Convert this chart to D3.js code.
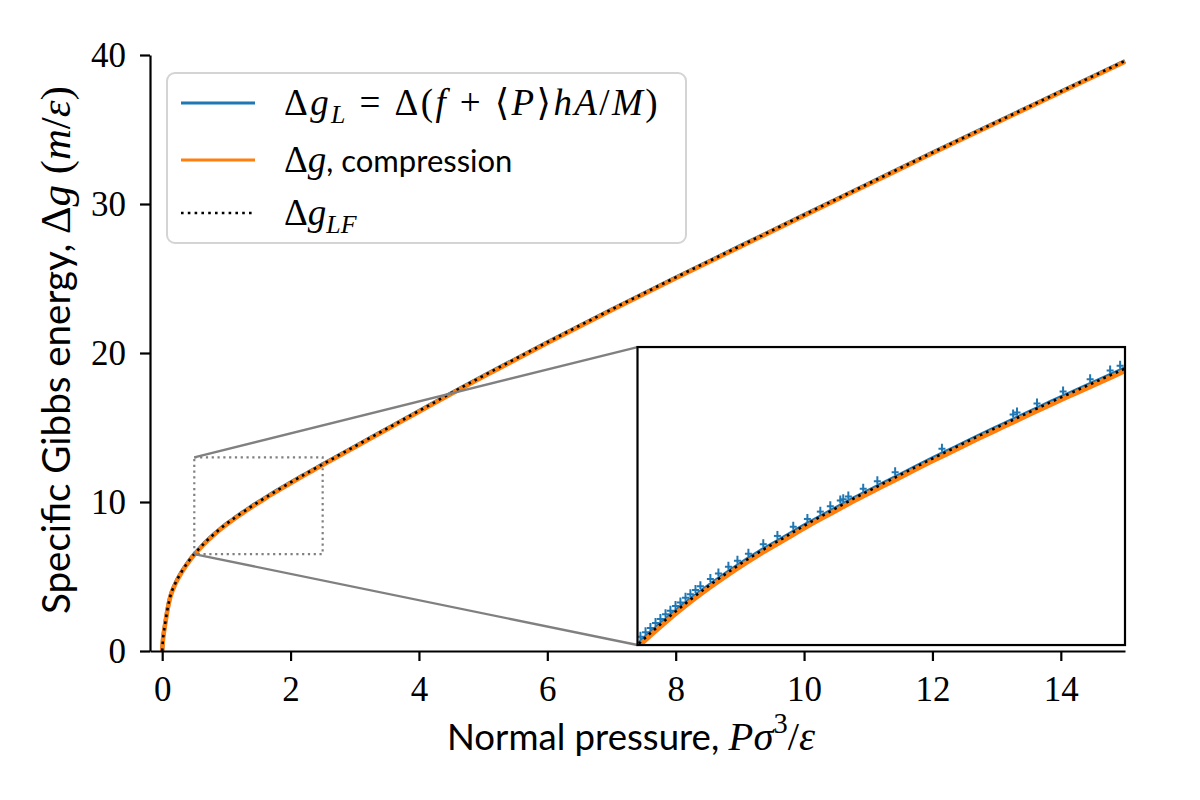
<!DOCTYPE html>
<html>
<head>
<meta charset="utf-8">
<script src="https://cdn.jsdelivr.net/npm/d3@7"></script>
<style>
  body { margin: 0; background: #fff; }
</style>
</head>
<body>
<svg id="chart" width="1200" height="800"></svg>
<script>
// ---- data ----
const pressure = [0, 0.01, 0.025, 0.05, 0.08, 0.125, 0.2, 0.3, 0.4, 0.5, 0.6, 0.7, 0.8, 0.9, 1.0, 1.1, 1.2, 1.3, 1.4, 1.5,
  1.6, 1.7, 1.8, 1.9, 2.0, 2.1, 2.2, 2.3, 2.4, 2.5, 3.0, 3.5, 4.0, 4.5, 5.0, 6.0, 7.0, 8.0, 9.0, 10, 11, 12, 13, 14, 15]
const gL = [0, 0.7, 1.25, 1.95, 2.75, 3.65, 4.5, 5.3, 5.95, 6.5, 6.98, 7.42, 7.82, 8.19, 8.53, 8.84, 9.15, 9.44, 9.73, 10.0,
  10.27, 10.54, 10.8, 11.06, 11.31, 11.56, 11.81, 12.05, 12.29, 12.53, 13.73, 14.92, 16.11, 17.3, 18.46, 20.72, 22.92, 25.07, 27.17, 29.27, 31.36, 33.45, 35.5, 37.55, 39.6]
const gCompression = [0, 0.65, 1.2, 1.9, 2.7, 3.6, 4.45, 5.25, 5.9, 6.45, 6.93, 7.37, 7.77, 8.14, 8.48, 8.79, 9.1, 9.39, 9.68, 9.95,
  10.22, 10.49, 10.75, 11.01, 11.26, 11.51, 11.76, 12.0, 12.24, 12.48, 13.68, 14.87, 16.06, 17.25, 18.41, 20.67, 22.87, 25.02, 27.12, 29.22, 31.31, 33.4, 35.45, 37.5, 39.55]
const gLF = [0, 0.7, 1.25, 1.95, 2.75, 3.65, 4.5, 5.3, 5.95, 6.5, 6.98, 7.42, 7.82, 8.19, 8.53, 8.84, 9.15, 9.44, 9.73, 10.0,
  10.27, 10.54, 10.8, 11.06, 11.31, 11.56, 11.81, 12.05, 12.29, 12.53, 13.73, 14.92, 16.11, 17.3, 18.46, 20.72, 22.92, 25.07, 27.17, 29.27, 31.36, 33.45, 35.5, 37.55, 39.6]

// blue sample points shown in the zoom inset
const markerP = [0.512, 0.533, 0.553, 0.574, 0.594, 0.615, 0.635, 0.656, 0.676, 0.697, 0.717, 0.738, 0.758, 0.799, 0.832, 0.873, 0.910, 0.955,
  1.016, 1.074, 1.139, 1.197, 1.250, 1.291, 1.332, 1.344, 1.365, 1.426, 1.484, 1.557, 1.749, 2.041, 2.057, 2.139, 2.246, 2.357, 2.439, 2.480]
const markerG = [6.68, 6.78, 6.87, 6.98, 7.07, 7.17, 7.25, 7.35, 7.43, 7.53, 7.61, 7.70, 7.78, 7.94, 8.06, 8.21, 8.34, 8.49,
  8.70, 8.88, 9.08, 9.25, 9.41, 9.53, 9.65, 9.68, 9.74, 9.91, 10.07, 10.27, 10.78, 11.53, 11.57, 11.77, 12.03, 12.30, 12.49, 12.59]

const xTicks = [0, 2, 4, 6, 8, 10, 12, 14]
const yTicks = [0, 10, 20, 30, 40]
const xDomain = [-0.19, 15]
const yDomain = [0, 40]
const zoomX = [0.5, 2.5]
const zoomY = [6.5, 13]

// ---- layout ----
const SERIF = "'Liberation Serif', 'DejaVu Serif', serif"
const SANS = "'Lato', 'DejaVu Sans', sans-serif"
const BLUE = '#1f77b4', ORANGE = '#ff7f0e'

const plot = { left: 150, right: 1125, top: 55, bottom: 651 }
const pw = plot.right - plot.left, ph = plot.bottom - plot.top
// inset placed at axes fraction [0.5, 0.01, 0.5, 0.5]
const inset = {
    left: plot.left + 0.5 * pw,
    right: plot.left + pw,
    top: plot.bottom - 0.51 * ph,
    bottom: plot.bottom - 0.01 * ph
}

const svg = d3.select('#chart')

const x = d3.scaleLinear().domain(xDomain).range([plot.left, plot.right])
const y = d3.scaleLinear().domain(yDomain).range([plot.bottom, plot.top])
const xi = d3.scaleLinear().domain(zoomX).range([inset.left, inset.right])
const yi = d3.scaleLinear().domain(zoomY).range([inset.bottom, inset.top])

// writes mixed math / sans text with sub and superscripts
// size = math (serif) size, sansSize = size used for plain words
function richText(parent, parts, size, sansSize, attrs, ls = 0) {
    const t = parent.append('text').style('font-size', size + 'px')
    Object.entries(attrs).forEach(([k, v]) => t.attr(k, v))
    let shift = 0
    parts.forEach(p => {
        const s = t.append('tspan').text(p.t)
            .style('font-family', p.sans ? SANS : SERIF)
        if (p.i) s.style('font-style', 'italic')
        const target = p.sub ? 0.22 : p.sup ? -0.42 : 0
        const dy = (target - shift) * size
        if (dy) s.attr('dy', dy)
        shift = target
        if (p.sub || p.sup) s.style('font-size', (size * 0.7) + 'px')
        else if (p.sans) s.style('font-size', sansSize + 'px')
        if (ls && !p.sans) s.style('letter-spacing', ls + 'px')
    })
    return t
}

// scale the font so the label spans the width seen in the reference
function fittedText(parent, parts, size, sansRatio, width, attrs) {
    const probe = richText(parent, parts, size, size * sansRatio, attrs)
    const k = width / probe.node().getComputedTextLength()
    probe.remove()
    return richText(parent, parts, size * k, size * k * sansRatio, attrs)
}

// keep the font size, widen letter spacing to match the reference width
function spacedText(parent, parts, size, sansSize, width, attrs) {
    if (!width) return richText(parent, parts, size, sansSize, attrs)
    const probe = richText(parent, parts, size, sansSize, attrs)
    const w = probe.node().getComputedTextLength()
    const n = parts.filter(p => !p.sans).map(p => p.t.length).reduce((a, b) => a + b, 0)
    probe.remove()
    return richText(parent, parts, size, sansSize, attrs, Math.max(0, (width - w) / n))
}

function lineFor(xs, ys) {
    return d3.line()
        .x((d, k) => xs(pressure[k]))
        .y(d => ys(d))
        .curve(d3.curveMonotoneX)
}

// ---- main curves ----
const main = svg.append('g')
const series = [
    { vals: gL, color: BLUE, width: 4, dash: null },
    { vals: gCompression, color: ORANGE, width: 4.5, dash: null },
    { vals: gLF, color: '#000', width: 2.6, dash: '2.6,4.2' }
]
series.forEach(s => {
    main.append('path')
        .attr('d', lineFor(x, y)(s.vals))
        .attr('fill', 'none')
        .attr('stroke', s.color)
        .attr('stroke-width', s.width)
        .attr('stroke-dasharray', s.dash)
})

// ---- zoom indicator + connectors ----
const gray = '#808080'
svg.append('rect')
    .attr('x', x(zoomX[0])).attr('y', y(zoomY[1]))
    .attr('width', x(zoomX[1]) - x(zoomX[0]))
    .attr('height', y(zoomY[0]) - y(zoomY[1]))
    .attr('fill', 'none')
    .attr('stroke', gray)
    .attr('stroke-width', 2.2)
    .attr('stroke-dasharray', '2.2,3.6')

svg.append('line')
    .attr('x1', x(zoomX[0])).attr('y1', y(zoomY[1]))
    .attr('x2', inset.left).attr('y2', inset.top)
    .attr('stroke', gray).attr('stroke-width', 2.4)
svg.append('line')
    .attr('x1', x(zoomX[0])).attr('y1', y(zoomY[0]))
    .attr('x2', inset.left).attr('y2', inset.bottom)
    .attr('stroke', gray).attr('stroke-width', 2.4)

// ---- inset ----
svg.append('clipPath').attr('id', 'insetClip')
    .append('rect')
    .attr('x', inset.left).attr('y', inset.top)
    .attr('width', inset.right - inset.left)
    .attr('height', inset.bottom - inset.top)

svg.append('rect')
    .attr('x', inset.left).attr('y', inset.top)
    .attr('width', inset.right - inset.left)
    .attr('height', inset.bottom - inset.top)
    .attr('fill', '#fff')

const ins = svg.append('g').attr('clip-path', 'url(#insetClip)')

series.slice(0, 2).forEach(s => {
    ins.append('path')
        .attr('d', lineFor(xi, yi)(s.vals))
        .attr('fill', 'none')
        .attr('stroke', s.color)
        .attr('stroke-width', s.width + 0.5)
})

// blue sample markers, small error-bar crosses
const marks = ins.selectAll('g.mark')
    .data(markerP.map((p, k) => ({ p, g: markerG[k] })))
    .enter().append('g')
    .attr('class', 'mark')
    .attr('transform', d => `translate(${xi(d.p)},${yi(d.g)})`)
marks.append('line')
    .attr('x1', 0).attr('x2', 0).attr('y1', -5).attr('y2', 3)
    .attr('stroke', BLUE).attr('stroke-width', 2)
marks.append('line')
    .attr('x1', -3.5).attr('x2', 3.5).attr('y1', 0).attr('y2', 0)
    .attr('stroke', BLUE).attr('stroke-width', 2)

ins.append('path')
    .attr('d', lineFor(xi, yi)(gLF))
    .attr('fill', 'none')
    .attr('stroke', '#000')
    .attr('stroke-width', 2.6)
    .attr('stroke-dasharray', '2.6,4.2')

svg.append('rect')
    .attr('x', inset.left).attr('y', inset.top)
    .attr('width', inset.right - inset.left)
    .attr('height', inset.bottom - inset.top)
    .attr('fill', 'none')
    .attr('stroke', '#000')
    .attr('stroke-width', 2.2)

// ---- axes ----
const xAxis = svg.append('g')
    .attr('transform', `translate(0,${plot.bottom})`)
    .call(d3.axisBottom(x).tickValues(xTicks).tickSize(10).tickPadding(15).tickSizeOuter(0))
const yAxis = svg.append('g')
    .attr('transform', `translate(${plot.left},0)`)
    .call(d3.axisLeft(y).tickValues(yTicks).tickSize(10).tickPadding(14).tickSizeOuter(0))

;[xAxis, yAxis].forEach(a => {
    a.select('.domain').attr('stroke', '#000').attr('stroke-width', 2.2)
    a.selectAll('.tick line').attr('stroke', '#000').attr('stroke-width', 2.2)
    a.selectAll('.tick text')
        .style('font-family', SERIF)
        .style('font-size', '35px')
        .attr('fill', '#000')
})
yAxis.selectAll('.tick text').attr('dy', '0.34em')

// axis titles
fittedText(svg, [
    { t: 'Normal pressure, ', sans: true },
    { t: 'P', i: true }, { t: 'σ', i: true }, { t: '3', sup: true },
    { t: '/' }, { t: 'ε', i: true }
], 38, 0.9, 368, { x: 447, y: 750 })

fittedText(svg, [
    { t: 'Specific Gibbs energy, ', sans: true },
    { t: 'Δ' }, { t: 'g', i: true }, { t: ' (' }, { t: 'm', i: true },
    { t: '/' }, { t: 'ε', i: true }, { t: ')' }
], 38, 0.9, 528, { transform: 'translate(70,614) rotate(-90)' })

// ---- legend ----
const legend = svg.append('g')
legend.append('rect')
    .attr('x', 167).attr('y', 73).attr('width', 519).attr('height', 170)
    .attr('rx', 8)
    .attr('fill', 'rgba(255,255,255,0.8)')
    .attr('stroke', '#d4d4d4').attr('stroke-width', 2)

const legendRows = [
    { yy: 103, color: BLUE, dash: null, width: 3, w: 376,
      parts: [{ t: 'Δ' }, { t: 'g', i: true }, { t: 'L', i: true, sub: true }, { t: ' = Δ(' }, { t: 'f', i: true },
        { t: ' + ⟨' }, { t: 'P', i: true }, { t: '⟩' }, { t: 'hA', i: true }, { t: '/' }, { t: 'M', i: true }, { t: ')' }] },
    { yy: 160, color: ORANGE, dash: null, width: 3, w: null,
      parts: [{ t: 'Δ' }, { t: 'g', i: true }, { t: ', compression', sans: true }] },
    { yy: 213, color: '#000', dash: '2.6,4.2', width: 2.6, w: null,
      parts: [{ t: 'Δ' }, { t: 'g', i: true }, { t: 'LF', i: true, sub: true }] }
]
legendRows.forEach(r => {
    legend.append('line')
        .attr('x1', 181).attr('x2', 255).attr('y1', r.yy).attr('y2', r.yy)
        .attr('stroke', r.color).attr('stroke-width', r.width)
        .attr('stroke-dasharray', r.dash)
    spacedText(legend, r.parts, 37, 31, r.w, { x: 284, y: r.yy + 12 })
})
</script>
</body>
</html>
